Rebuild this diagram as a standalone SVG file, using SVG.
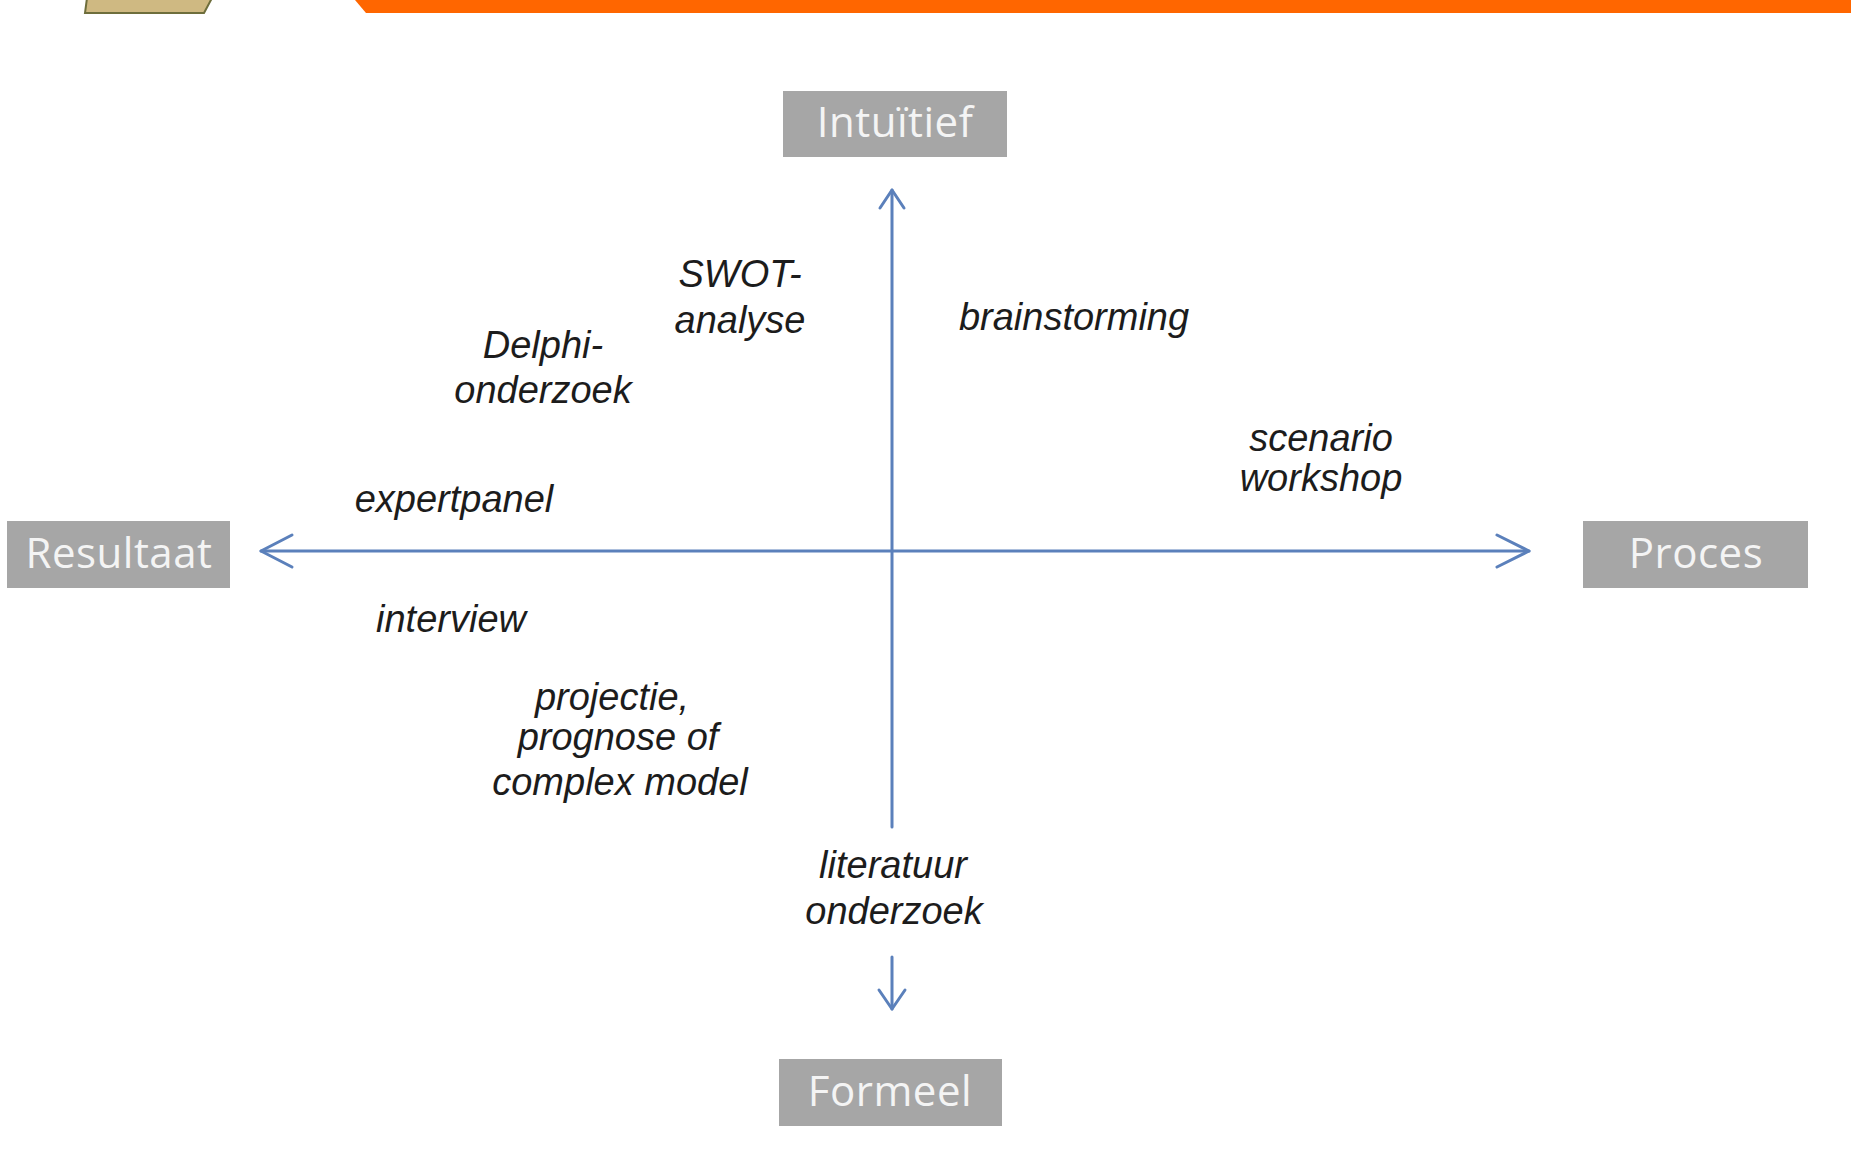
<svg xmlns="http://www.w3.org/2000/svg" width="1851" height="1170" viewBox="0 0 1851 1170">
<style>
.box{fill:#a6a6a6;}
.boxtxt{font-family:"Open Sans","Liberation Sans",sans-serif;font-size:42px;fill:#f4f4f4;text-anchor:middle;letter-spacing:0.5px;}
.lbl{font-family:"Liberation Sans",Arial,sans-serif;font-style:italic;font-size:38px;fill:#1c1c1c;text-anchor:middle;}
.ax{stroke:#5b80bb;stroke-width:3;fill:none;stroke-linecap:round;stroke-linejoin:round;}
</style>
<rect width="1851" height="1170" fill="#ffffff"/>
<polygon points="87,-2 212,-2 204,13 85,13" fill="#cfb982" stroke="#6e6e3c" stroke-width="2"/>
<polygon points="355,0 1851,0 1851,13 366,13" fill="#ff6600"/>
<g id="connectors">
<path class="ax" d="M261,551 H1529"/>
<path class="ax" d="M292,535 L261,551 L292,567"/>
<path class="ax" d="M1497,535 L1529,551 L1497,567"/>
<path class="ax" d="M892,190 V827"/>
<path class="ax" d="M880,208 L892,190 L904,208"/>
<path class="ax" d="M892,957 V1009"/>
<path class="ax" d="M879,990 L892,1009 L905,990"/>
</g>
<g id="intuitief"><rect class="box" x="783" y="91" width="224" height="66"/><text class="boxtxt" x="895" y="137">Intuïtief</text></g>
<g id="resultaat"><rect class="box" x="7" y="521" width="223" height="67"/><text class="boxtxt" x="119" y="568">Resultaat</text></g>
<g id="proces"><rect class="box" x="1583" y="521" width="225" height="67"/><text class="boxtxt" x="1696" y="568">Proces</text></g>
<g id="formeel"><rect class="box" x="779" y="1059" width="223" height="67"/><text class="boxtxt" x="890" y="1106">Formeel</text></g>
<g id="swot"><text class="lbl" x="740" y="287">SWOT-</text><text class="lbl" x="740" y="333">analyse</text></g>
<g id="brainstorming"><text class="lbl" x="1074" y="330">brainstorming</text></g>
<g id="delphi"><text class="lbl" x="543" y="358">Delphi-</text><text class="lbl" x="543" y="403">onderzoek</text></g>
<g id="scenario"><text class="lbl" x="1321" y="451">scenario</text><text class="lbl" x="1321" y="491">workshop</text></g>
<g id="expertpanel"><text class="lbl" x="454" y="512">expertpanel</text></g>
<g id="interview"><text class="lbl" x="451" y="632">interview</text></g>
<g id="projectie"><text class="lbl" x="612" y="710">projectie,</text><text class="lbl" x="618" y="750">prognose of</text><text class="lbl" x="620" y="795">complex model</text></g>
<g id="literatuur"><text class="lbl" x="893" y="878">literatuur</text><text class="lbl" x="894" y="924">onderzoek</text></g>
</svg>
